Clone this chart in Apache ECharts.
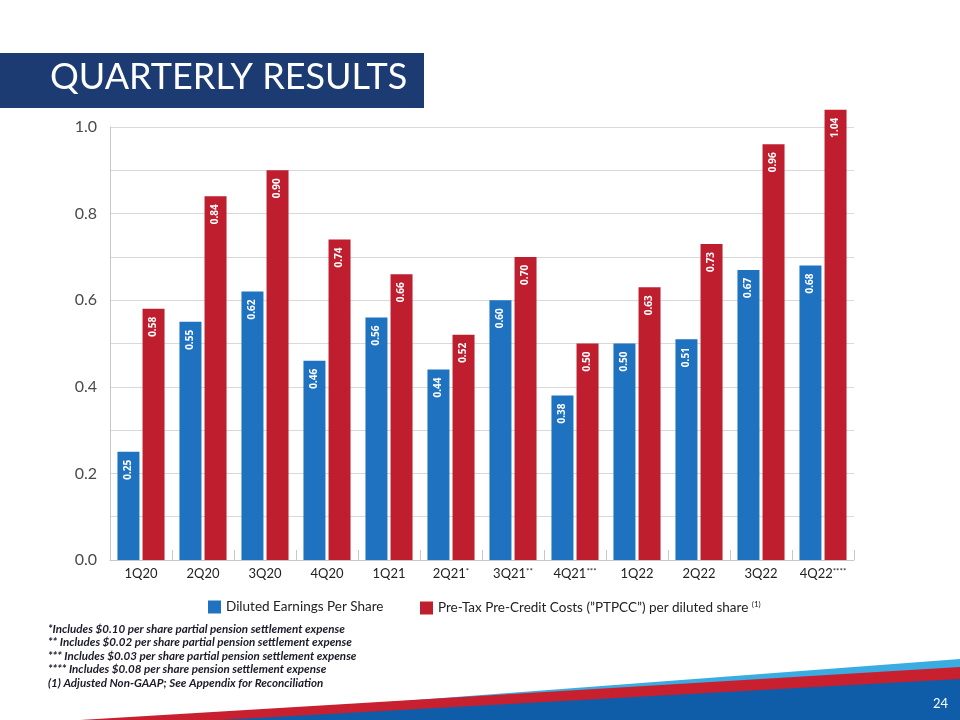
<!DOCTYPE html>
<html>
<head>
<meta charset="utf-8">
<script src="https://cdn.jsdelivr.net/npm/echarts@6/dist/echarts.min.js"></script>
<style>
html,body{margin:0;padding:0;background:#fff;}
#c{width:960px;height:720px;}
</style>
</head>
<body>
<div id="c"></div>
<script>
var categories = ['1Q20','2Q20','3Q20','4Q20','1Q21','2Q21','3Q21','4Q21','1Q22','2Q22','3Q22','4Q22'];
var categoryMarks = ['','','','','','*','**','***','','','','****'];
var epsValues = [0.25,0.55,0.62,0.46,0.56,0.44,0.60,0.38,0.50,0.51,0.67,0.68];
var ptpccValues = [0.58,0.84,0.90,0.74,0.66,0.52,0.70,0.50,0.63,0.73,0.96,1.04];
var yTicks = [0.0,0.2,0.4,0.6,0.8,1.0];
var seriesNames = ['Diluted Earnings Per Share','Pre-Tax Pre-Credit Costs (”PTPCC”) per diluted share'];
var footnotes = [
  '*Includes $0.10 per share partial pension settlement expense',
  '** Includes $0.02 per share partial pension settlement expense',
  '*** Includes $0.03 per share partial pension settlement expense',
  '**** Includes $0.08 per share pension settlement expense',
  '(1) Adjusted Non-GAAP; See Appendix for Reconciliation'
];

var BLUE = '#1f72bf', RED = '#bf1e2e';
var FONT = 'Lato, "Open Sans", sans-serif';
var chart = echarts.init(document.getElementById('c'));

var labelCfg = {
  show: true, position: 'insideTop', rotate: 90, align: 'right', verticalAlign: 'middle',
  distance: 8, color: '#fff', fontSize: 10, fontWeight: 'bold', fontFamily: 'Open Sans, sans-serif',
  formatter: function(p){ return p.value.toFixed(2); }
};

var footGraphics = footnotes.map(function(t, i){
  return {type:'text', left: 48, top: 623 + i*13.5, z: 10,
    style:{text:t, fill:'#1a1a2a', font:'italic bold 11.6px ' + FONT}};
});

chart.setOption({
  animation: false,
  grid: {left: 110, right: 106, top: 127, bottom: 160, containLabel: false},
  legend: [
    {left: 203, top: 595, itemWidth: 13, itemHeight: 13, icon: 'rect', data:[seriesNames[0]],
     textStyle:{fontSize: 13.5, color:'#222', fontFamily: FONT}},
    {left: 415, top: 595, itemWidth: 13, itemHeight: 13, icon: 'rect', data:[seriesNames[1]],
     formatter: function(n){ return n + ' {s|(1)}'; },
     textStyle:{fontSize: 13.5, color:'#222', fontFamily: FONT,
       rich:{s:{fontSize: 8, verticalAlign:'top', color:'#222', fontFamily: FONT, padding:[0,0,8,0]}}}}
  ],
  xAxis: {
    type: 'category', data: categories,
    axisLine: {show: true, lineStyle: {color: '#c8c8c8', width: 1}},
    axisTick: {show: true, inside: true, length: 10, lineStyle: {color: '#c8c8c8'}},
    axisLabel: {interval: 0, margin: 7, color: '#222', fontSize: 13, fontFamily: FONT,
      formatter: function(v, i){ var m = categoryMarks[i]; return m ? v + '{s|' + m + '}' : v; },
      rich: {s: {fontSize: 8, verticalAlign: 'top', color:'#222', padding:[0,0,6,0]}}}
  },
  yAxis: {
    type: 'value', min: 0, max: 1.0, interval: 0.1,
    axisLine: {show: true, lineStyle: {color: '#c8c8c8'}},
    axisTick: {show: false},
    splitLine: {show: true, lineStyle: {color: '#d9d9d9', width: 1}},
    axisLabel: {margin: 13, color: '#4a4a4a', fontSize: 16, fontFamily: FONT,
      formatter: function(v){
        var k = Math.round(v*10);
        for (var i=0;i<yTicks.length;i++){ if (Math.round(yTicks[i]*10) === k) return yTicks[i].toFixed(1); }
        return '';
      }}
  },
  series: [
    {name: seriesNames[0], type: 'bar', data: epsValues, barWidth: 22, barGap: '14%', clip: false,
     itemStyle: {color: BLUE}, label: labelCfg},
    {name: seriesNames[1], type: 'bar', data: ptpccValues, barWidth: 22, clip: false,
     itemStyle: {color: RED}, label: labelCfg}
  ],
  graphic: [
    {type:'rect', shape:{x:0, y:53, width:424, height:55}, style:{fill:'#1d3b73'}, z: 1},
    {type:'text', left: 50, top: 59, z: 2, style:{text:'QUARTERLY RESULTS', fill:'#fff', font:'normal 36px ' + FONT}},
    {type:'polygon', shape:{points:[[150,720],[960,659],[960,720]]}, style:{fill:'#3aace2'}, z: 1},
    {type:'polygon', shape:{points:[[80,720],[960,667],[960,720]]}, style:{fill:'#c8202f'}, z: 2},
    {type:'polygon', shape:{points:[[220,720],[960,679],[960,720]]}, style:{fill:'#0f5ca8'}, z: 3},
    {type:'text', left: 933, top: 697, z: 4, style:{text:'24', fill:'#fff', font:'normal 13px ' + FONT}}
  ].concat(footGraphics)
});
</script>
</body>
</html>
